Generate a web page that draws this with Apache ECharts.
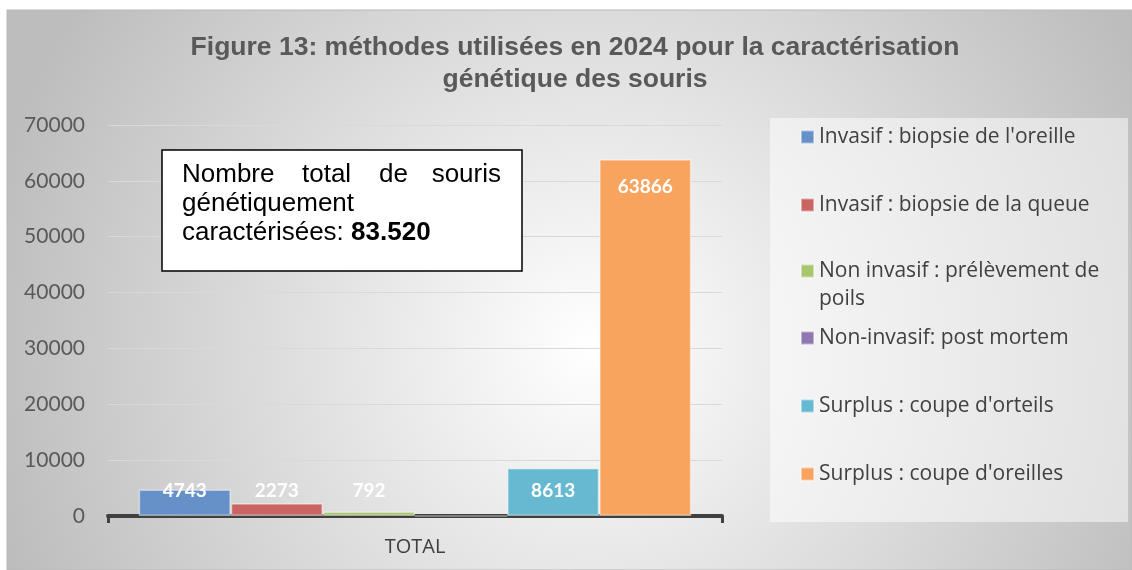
<!DOCTYPE html>
<html>
<head>
  <meta charset="utf-8">
  <title>Figure 13</title>
  <script src="https://cdn.jsdelivr.net/npm/echarts@6/dist/echarts.min.js"></script>
  <style>
    html, body { margin: 0; padding: 0; background: #fff; }
  </style>
</head>
<body>
  <div id="main" style="width: 1132px; height: 570px;"></div>

  <script>
    // données
    var categories = ['TOTAL'];
    var seriesNames = [
      "Invasif : biopsie de l'oreille",
      'Invasif : biopsie de la queue',
      'Non invasif : prélèvement de poils',
      'Non-invasif: post mortem',
      "Surplus : coupe d'orteils",
      "Surplus : coupe d'oreilles"
    ];
    var seriesValues = [4743, 2273, 792, 0, 8613, 63866];
    var seriesColors = ['#6591c8', '#c96562', '#a9c56e', '#8f77b0', '#66b9d1', '#f8a45f'];
    var yTicks = [0, 10000, 20000, 30000, 40000, 50000, 60000, 70000];
    var totalText = '83.520';

    var chartDom = document.getElementById('main');
    var myChart = echarts.init(chartDom);

    var legendTops = [123, 191, 257, 324, 392, 460];
    var boxFont = '26px "Liberation Sans"';
    var legendFont = 21;

    var series = seriesNames.map(function (name, i) {
      var big = seriesValues[i] > 30000;
      return {
        name: name,
        type: 'bar',
        barGap: '0%',
        barCategoryGap: '10%',
        data: [seriesValues[i]],
        itemStyle: {
          color: seriesColors[i],
          borderColor: 'rgba(255,255,255,0.45)',
          borderWidth: 1.5
        },
        label: {
          show: seriesValues[i] > 0,
          position: big ? 'insideTop' : 'insideBottom',
          distance: big ? 18 : 16,
          color: '#ffffff',
          fontFamily: 'Lato',
          fontWeight: 'bold',
          fontSize: 19
        }
      };
    });

    // une légende par série pour placer chaque entrée comme dans l'original
    var legends = seriesNames.map(function (name, i) {
      var text = i === 2 ? 'Non invasif : prélèvement de' : name;
      return {
        data: [name],
        left: 800,
        top: legendTops[i],
        padding: 0,
        icon: 'rect',
        itemWidth: 13,
        itemHeight: 13,
        selectedMode: false,
        formatter: function () { return text; },
        textStyle: {
          color: '#404040',
          fontFamily: 'Open Sans',
          fontSize: legendFont,
          lineHeight: 28
        }
      };
    });

    var option = {
      animation: false,
      title: {
        text: 'Figure 13: méthodes utilisées en 2024 pour la caractérisation\ngénétique des souris',
        left: 575,
        top: 32,
        padding: 0,
        textAlign: 'center',
        textStyle: {
          fontFamily: 'Liberation Sans',
          fontWeight: 'bold',
          fontSize: 26.5,
          lineHeight: 32,
          color: '#595959'
        }
      },
      legend: legends,
      grid: {
        left: 108,
        right: 410,
        top: 125,
        bottom: 54
      },
      xAxis: {
        type: 'category',
        data: categories,
        axisLine: { lineStyle: { color: '#404040', width: 4 } },
        axisTick: { show: true, length: 7, lineStyle: { color: '#404040', width: 3 } },
        axisLabel: {
          margin: 21,
          color: '#404040',
          fontFamily: 'Open Sans',
          fontSize: 20
        }
      },
      yAxis: {
        type: 'value',
        min: yTicks[0],
        max: yTicks[yTicks.length - 1],
        interval: yTicks[1] - yTicks[0],
        axisLine: { show: false },
        axisTick: { show: false },
        splitLine: { lineStyle: { color: '#d9d9d9', width: 1 } },
        axisLabel: {
          margin: 23,
          color: '#595959',
          fontFamily: 'Lato',
          fontSize: 21,
          formatter: function (v) { return String(v); }
        }
      },
      graphic: [
        {
          // fond dégradé du cadre
          type: 'rect',
          z: -10,
          silent: true,
          shape: { x: 7, y: 10, width: 1125, height: 560 },
          style: {
            fill: {
              type: 'radial', x: 0.52, y: 0.6, r: 1.1,
              colorStops: [
                { offset: 0, color: '#ffffff' },
                { offset: 1, color: '#bdbdbd' }
              ]
            },
            stroke: '#b8b8b8',
            lineWidth: 1
          }
        },
        {
          // cadre de la légende
          type: 'rect',
          z: -5,
          silent: true,
          shape: { x: 770, y: 118, width: 358, height: 404 },
          style: { fill: 'rgba(255,255,255,0.5)' }
        },
        {
          // suite du libellé de légende sur deux lignes
          type: 'text',
          z: 10,
          x: 819, y: 299,
          style: { text: 'poils', font: legendFont + 'px "Open Sans"', fill: '#404040', verticalAlign: 'middle' }
        },
        // encadré du total
        {
          type: 'rect', z: 100,
          shape: { x: 162, y: 150, width: 360, height: 121 },
          style: { fill: '#ffffff', stroke: '#000000', lineWidth: 1.5 }
        },
        { type: 'text', z: 101, x: 182, y: 175, style: { text: 'Nombre', font: boxFont, fill: '#000', verticalAlign: 'middle' } },
        { type: 'text', z: 101, x: 302, y: 175, style: { text: 'total', font: boxFont, fill: '#000', verticalAlign: 'middle' } },
        { type: 'text', z: 101, x: 379, y: 175, style: { text: 'de', font: boxFont, fill: '#000', verticalAlign: 'middle' } },
        { type: 'text', z: 101, x: 501, y: 175, style: { text: 'souris', font: boxFont, fill: '#000', align: 'right', verticalAlign: 'middle' } },
        { type: 'text', z: 101, x: 182, y: 204, style: { text: 'génétiquement', font: boxFont, fill: '#000', verticalAlign: 'middle' } },
        {
          type: 'text', z: 101, x: 182, y: 233,
          style: {
            text: '{n|caractérisées: }{b|' + totalText + '}',
            verticalAlign: 'middle',
            rich: {
              n: { fontFamily: 'Liberation Sans', fontSize: 26, fill: '#000' },
              b: { fontFamily: 'Liberation Sans', fontSize: 26, fontWeight: 'bold', fill: '#000' }
            }
          }
        }
      ],
      series: series
    };

    option && myChart.setOption(option);
  </script>
</body>
</html>
